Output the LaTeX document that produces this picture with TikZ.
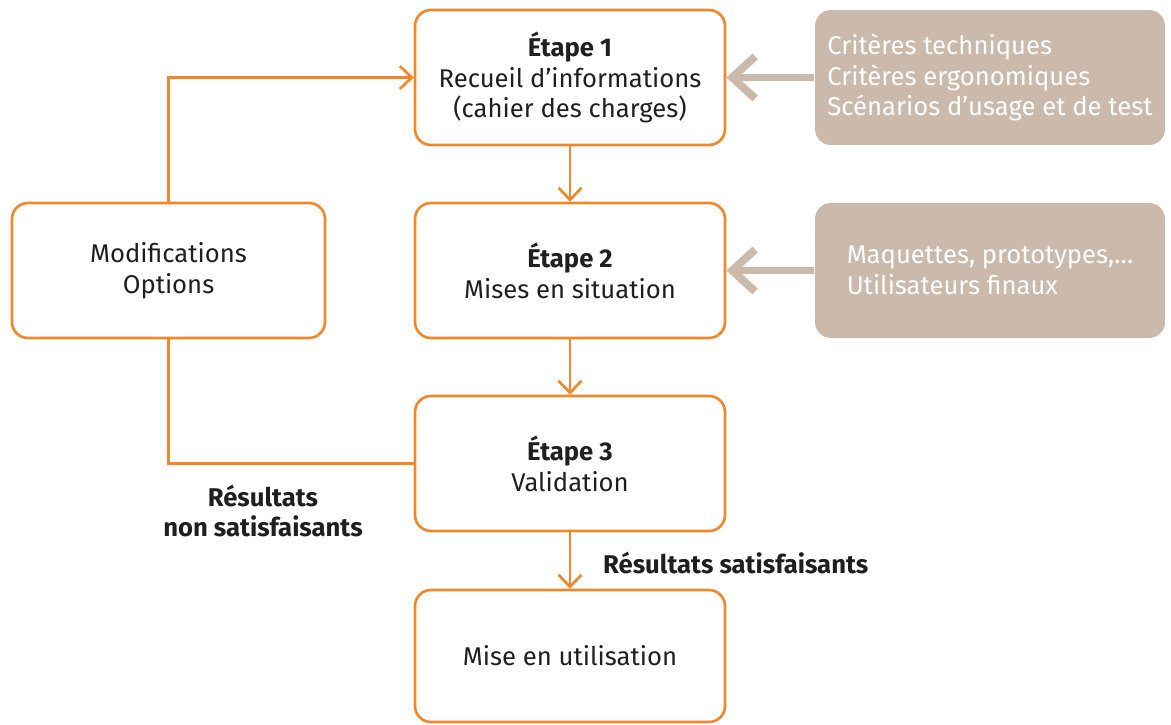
\documentclass[tikz,border=0pt]{standalone}
\usepackage{fontspec}
\setmainfont{Fira Sans}
\usetikzlibrary{arrows.meta,positioning}
\definecolor{stepline}{HTML}{F0872A}
\definecolor{inputfill}{HTML}{CBBAAB}
\definecolor{inktext}{HTML}{1F1F1F}

\begin{document}
\begin{tikzpicture}[->,>={Straight Barb[length=2.4mm,width=4.6mm]},node distance=3.86cm,
line width=1.5pt,font=\fontsize{14.6}{17.6}\selectfont]
\tikzstyle{stage}=[draw=stepline,rounded corners=0.32cm,minimum width=6.2cm,minimum height=2.7cm,align=center,text=inktext]
\tikzstyle{input}=[fill=inputfill,draw=none,rounded corners=0.32cm,minimum width=7cm,minimum height=2.7cm,align=left,text=white]
\tikzstyle{flow}=[draw=stepline]
\tikzstyle{feed}=[draw=inputfill,line width=4.5pt,-{Straight Barb[length=4.6mm,width=8.4mm]}]

\useasboundingbox (0,0) rectangle (23.42,-14.5);

\node[stage]         (s1) at (11.4,-1.55) {\textbf{Étape 1}\\Recueil d’informations\\(cahier des charges)};
\node[stage]         (s2) [below of=s1]   {\textbf{Étape 2}\\Mises en situation};
\node[stage]         (s3) [below of=s2]   {\textbf{Étape 3}\\Validation};
\node[stage,minimum height=2.64cm] (s4) at (11.4,-13.12) {Mise en utilisation};
\node[stage,minimum width=6.26cm]  (mod) [left of=s2,node distance=8.03cm] {Modifications\\Options};

\node[input]         (c1) [right of=s1,node distance=8.4cm] {Critères techniques\\Critères ergonomiques\\Scénarios d’usage et de test};
\node[input]         (c2) [right of=s2,node distance=8.4cm] {Maquettes, prototypes,…\\Utilisateurs finaux};

\path[flow]
(s1) edge (s2)
(s2) edge (s3)
(s3) edge (s4);

% retour
\draw[flow,-] (s3.west) -| (mod.south);
\draw[flow]   (mod.north) |- (s1.west);

\draw[feed] (c1) -- (s1);
\draw[feed] (c2) -- (s2);

\node[font=\fontsize{14.6}{17.6}\selectfont\bfseries,align=center,text=inktext] (nok) at (5.26,-10.22) {Résultats\\non satisfaisants};
\node[font=\fontsize{14.6}{17.6}\selectfont\bfseries,anchor=west,text=inktext] (ok) at (11.92,-11.26) {Résultats satisfaisants};
\end{tikzpicture}
\end{document}
